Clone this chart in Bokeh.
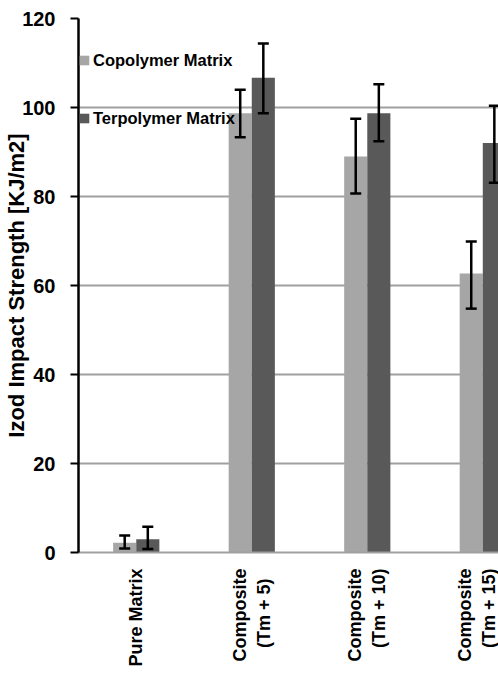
from math import pi
from bokeh.plotting import figure
from bokeh.models import (ColumnDataSource, Whisker, TeeHead, Legend, LegendItem,
                          FixedTicker, Range1d)
from bokeh.embed import file_html
from bokeh.resources import INLINE

# ---- data ----
categories = ["Pure Matrix", "Composite\n(Tm + 5)", "Composite\n(Tm + 10)", "Composite\n(Tm + 15)"]
copolymer = [2.2, 98.7, 89.0, 62.7]
copolymer_lo = [0.9, 93.3, 80.7, 54.8]
copolymer_hi = [3.8, 104.0, 97.5, 69.9]
terpolymer = [3.0, 106.7, 98.7, 92.0]
terpolymer_lo = [0.8, 98.7, 92.4, 83.1]
terpolymer_hi = [5.8, 114.4, 105.2, 100.4]
series_names = ["Copolymer Matrix", "Terpolymer Matrix"]
y_ticks = [0, 20, 40, 60, 80, 100, 120]

LIGHT = "#a6a6a6"
DARK = "#595959"
GRID = "#a0a0a0"
FONT = "Liberation Sans"
NBSP = "\u00a0"

idx = list(range(len(categories)))
x_light = [i - 0.1 for i in idx]
x_dark = [i + 0.1 for i in idx]


def centred(label):
    # pad shorter lines so the lines of a rotated two-line label look centred
    lines = label.split("\n")
    if len(lines) == 1:
        return label
    longest = max(len(s) for s in lines)
    return "\n".join(s + NBSP * (longest - len(s) + 1 if len(s) < longest else 0) for s in lines)


src_l = ColumnDataSource(dict(x=x_light, top=copolymer, lo=copolymer_lo, hi=copolymer_hi))
src_d = ColumnDataSource(dict(x=x_dark, top=terpolymer, lo=terpolymer_lo, hi=terpolymer_hi))

p = figure(width=498, height=673, output_backend="svg", toolbar_location=None,
           x_range=Range1d(-0.5, 3.136), y_range=Range1d(0, 120),
           min_border_left=78, min_border_right=0, min_border_top=18, min_border_bottom=121)
p.outline_line_color = None
p.background_fill_color = "white"

r_l = p.vbar(x="x", top="top", width=0.2, source=src_l, fill_color=LIGHT, line_color=None)
r_d = p.vbar(x="x", top="top", width=0.2, source=src_d, fill_color=DARK, line_color=None)

for src in (src_l, src_d):
    w = Whisker(base="x", lower="lo", upper="hi", source=src, dimension="height",
                line_color="black", line_width=2.5, level="annotation",
                upper_head=TeeHead(size=11, line_width=2.5, line_color="black"),
                lower_head=TeeHead(size=11, line_width=2.5, line_color="black"))
    p.add_layout(w)

# y axis
p.xgrid.visible = False
p.ygrid.grid_line_color = GRID
p.ygrid.grid_line_width = 2
p.yaxis.ticker = FixedTicker(ticks=y_ticks)
p.yaxis.minor_tick_line_color = None
p.yaxis.major_tick_out = 8
p.yaxis.major_tick_in = 0
p.yaxis.major_tick_line_width = 2
p.yaxis.axis_line_width = 2.5
p.yaxis.axis_line_color = "black"
p.yaxis.major_label_text_font = FONT
p.yaxis.major_label_text_font_style = "bold"
p.yaxis.major_label_text_font_size = "20px"
p.yaxis.major_label_text_color = "black"
p.yaxis.major_label_standoff = 15
p.yaxis.axis_label = "Izod Impact Strength [KJ/m2]"
p.yaxis.axis_label_text_font = FONT
p.yaxis.axis_label_text_font_style = "bold"
p.yaxis.axis_label_text_font_size = "22px"
p.yaxis.axis_label_text_color = "black"
p.yaxis.axis_label_standoff = -10

# x axis with rotated category labels
p.xaxis.ticker = FixedTicker(ticks=idx)
p.xaxis.major_label_overrides = {i: centred(c) for i, c in zip(idx, categories)}
p.xaxis.major_label_orientation = pi / 2
p.xaxis.major_label_text_font = FONT
p.xaxis.major_label_text_font_style = "bold"
p.xaxis.major_label_text_font_size = "18px"
p.xaxis.major_label_text_color = "black"
p.xaxis.major_label_standoff = 16
p.xaxis.major_tick_out = 0
p.xaxis.major_tick_in = 0
p.xaxis.major_tick_line_color = None
p.xaxis.minor_tick_line_color = None
p.xaxis.axis_line_color = GRID
p.xaxis.axis_line_width = 2

# legends (one per entry to control spacing)
for r, name, y in ((r_l, series_names[0], 481), (r_d, series_names[1], 423)):
    leg = Legend(items=[LegendItem(label=name, renderers=[r])], location=(0, y),
                 padding=0, margin=0, border_line_color=None, background_fill_alpha=0,
                 glyph_width=12, glyph_height=12, label_height=22, label_standoff=3,
                 label_text_font=FONT, label_text_font_style="bold",
                 label_text_font_size="16.5px", label_text_color="black")
    p.add_layout(leg)

open("out.html", "w").write(file_html(p, INLINE))
